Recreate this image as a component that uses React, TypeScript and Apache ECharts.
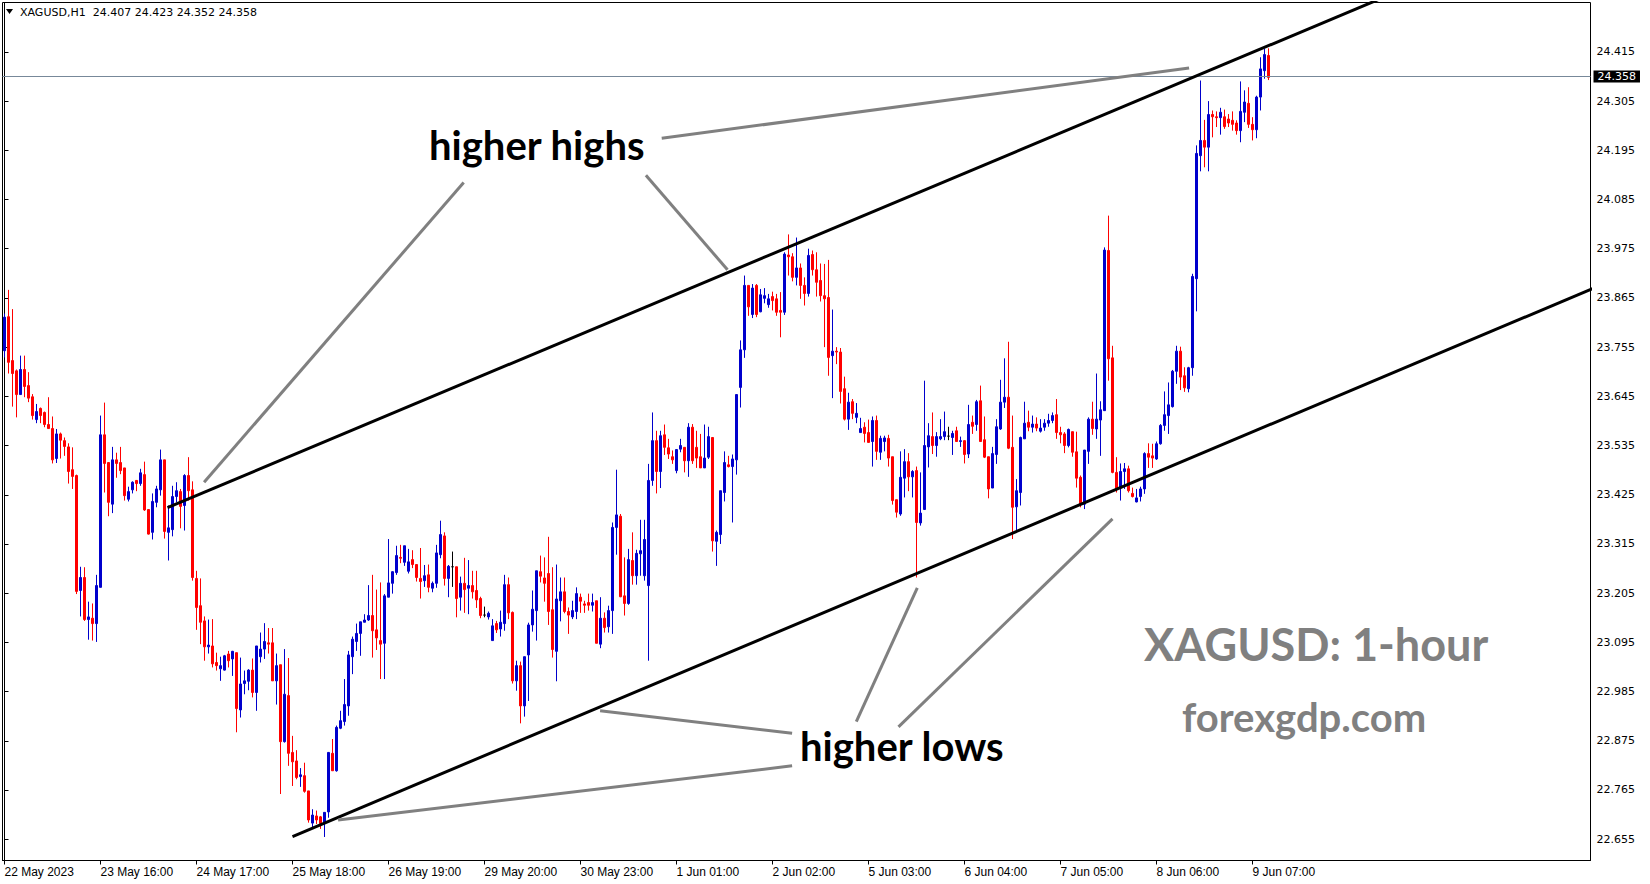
import { useEffect, useRef } from "react";
import * as echarts from "echarts";

// XAGUSD hourly candles, [open, high, low, close]
const bars: [number, number, number, number][] = [
  [23.747, 23.830, 23.732, 23.822], [23.823, 23.883, 23.696, 23.721], [23.725, 23.840, 23.622, 23.696], [23.702, 23.705, 23.598, 23.649],
  [23.649, 23.736, 23.649, 23.705], [23.705, 23.736, 23.643, 23.667], [23.669, 23.699, 23.632, 23.641], [23.644, 23.650, 23.593, 23.602],
  [23.593, 23.628, 23.585, 23.611], [23.618, 23.620, 23.585, 23.602], [23.609, 23.611, 23.576, 23.582], [23.582, 23.643, 23.573, 23.573],
  [23.573, 23.600, 23.495, 23.503], [23.506, 23.572, 23.496, 23.561], [23.561, 23.564, 23.506, 23.547], [23.546, 23.553, 23.512, 23.533],
  [23.532, 23.540, 23.450, 23.477], [23.481, 23.531, 23.438, 23.466], [23.468, 23.470, 23.203, 23.209], [23.211, 23.264, 23.153, 23.240],
  [23.240, 23.263, 23.143, 23.146], [23.146, 23.186, 23.101, 23.152], [23.149, 23.182, 23.099, 23.137], [23.137, 23.246, 23.096, 23.222],
  [23.218, 23.602, 23.218, 23.559], [23.559, 23.631, 23.430, 23.495], [23.497, 23.497, 23.377, 23.408], [23.404, 23.532, 23.384, 23.503],
  [23.503, 23.519, 23.463, 23.495], [23.497, 23.532, 23.471, 23.479], [23.485, 23.485, 23.412, 23.423], [23.415, 23.443, 23.410, 23.432],
  [23.436, 23.455, 23.428, 23.453], [23.457, 23.458, 23.433, 23.450], [23.450, 23.483, 23.445, 23.474], [23.470, 23.499, 23.389, 23.391],
  [23.392, 23.392, 23.336, 23.337], [23.341, 23.428, 23.325, 23.410], [23.408, 23.445, 23.397, 23.438], [23.436, 23.526, 23.423, 23.503],
  [23.503, 23.503, 23.327, 23.343], [23.341, 23.401, 23.278, 23.351], [23.347, 23.445, 23.332, 23.421], [23.421, 23.453, 23.408, 23.434],
  [23.432, 23.438, 23.350, 23.399], [23.401, 23.471, 23.345, 23.468], [23.468, 23.509, 23.412, 23.434], [23.436, 23.455, 23.233, 23.240],
  [23.238, 23.255, 23.123, 23.173], [23.177, 23.238, 23.091, 23.140], [23.143, 23.153, 23.054, 23.085], [23.085, 23.146, 23.070, 23.089],
  [23.087, 23.147, 23.039, 23.047], [23.050, 23.072, 23.032, 23.043], [23.036, 23.063, 23.009, 23.043], [23.033, 23.067, 23.032, 23.065],
  [23.069, 23.076, 23.039, 23.054], [23.058, 23.076, 23.020, 23.075], [23.072, 23.072, 22.894, 22.947], [22.944, 23.061, 22.927, 23.002],
  [23.003, 23.032, 22.979, 23.009], [23.008, 23.035, 22.988, 23.033], [23.033, 23.059, 22.972, 22.983], [22.983, 23.087, 22.942, 23.087],
  [23.063, 23.117, 23.050, 23.080], [23.080, 23.138, 23.058, 23.097], [23.094, 23.127, 23.070, 23.091], [23.094, 23.127, 23.009, 23.009],
  [23.009, 23.070, 22.956, 23.043], [23.045, 23.045, 22.756, 22.873], [22.873, 23.080, 22.871, 22.979], [22.976, 23.060, 22.819, 22.847],
  [22.849, 22.886, 22.774, 22.828], [22.830, 22.854, 22.789, 22.793], [22.795, 22.814, 22.772, 22.799], [22.797, 22.826, 22.759, 22.762],
  [22.763, 22.763, 22.692, 22.698], [22.691, 22.722, 22.681, 22.709], [22.707, 22.719, 22.689, 22.698], [22.705, 22.707, 22.678, 22.690],
  [22.692, 22.715, 22.660, 22.715], [22.716, 22.850, 22.703, 22.849], [22.847, 22.879, 22.808, 22.808], [22.808, 22.909, 22.806, 22.905],
  [22.903, 22.942, 22.901, 22.920], [22.918, 23.013, 22.909, 22.956], [22.953, 23.076, 22.931, 23.067], [23.063, 23.108, 23.024, 23.102],
  [23.097, 23.137, 23.076, 23.115], [23.115, 23.141, 23.065, 23.141], [23.140, 23.158, 23.140, 23.145], [23.145, 23.223, 23.143, 23.155],
  [23.155, 23.246, 23.061, 23.121], [23.123, 23.213, 23.078, 23.105], [23.099, 23.229, 23.013, 23.091], [23.093, 23.203, 23.013, 23.199],
  [23.196, 23.326, 23.196, 23.228], [23.227, 23.254, 23.204, 23.253], [23.251, 23.311, 23.246, 23.289], [23.285, 23.313, 23.272, 23.283],
  [23.274, 23.311, 23.266, 23.311], [23.254, 23.304, 23.249, 23.275], [23.280, 23.301, 23.261, 23.269], [23.269, 23.269, 23.231, 23.240],
  [23.238, 23.306, 23.193, 23.231], [23.233, 23.268, 23.219, 23.244], [23.246, 23.269, 23.207, 23.218], [23.216, 23.231, 23.207, 23.227],
  [23.227, 23.313, 23.217, 23.295], [23.291, 23.367, 23.283, 23.336], [23.333, 23.341, 23.222, 23.238], [23.238, 23.268, 23.196, 23.265],
  [23.264, 23.298, 23.219, 23.264], [23.264, 23.264, 23.151, 23.193], [23.196, 23.242, 23.166, 23.227], [23.227, 23.284, 23.161, 23.213],
  [23.216, 23.279, 23.158, 23.222], [23.222, 23.255, 23.193, 23.208], [23.211, 23.255, 23.172, 23.190], [23.193, 23.197, 23.149, 23.155],
  [23.156, 23.175, 23.151, 23.156], [23.152, 23.164, 23.146, 23.160], [23.099, 23.147, 23.099, 23.132], [23.137, 23.143, 23.116, 23.123],
  [23.125, 23.166, 23.108, 23.140], [23.137, 23.246, 23.121, 23.224], [23.224, 23.240, 23.147, 23.161], [23.162, 23.164, 23.003, 23.009],
  [23.009, 23.054, 22.987, 23.043], [23.043, 23.052, 22.914, 22.953], [22.953, 23.063, 22.929, 23.063], [23.067, 23.139, 22.964, 23.134],
  [23.134, 23.211, 23.119, 23.169], [23.166, 23.255, 23.099, 23.255], [23.253, 23.289, 23.229, 23.243], [23.239, 23.285, 23.186, 23.227],
  [23.249, 23.331, 23.134, 23.164], [23.168, 23.263, 23.061, 23.079], [23.075, 23.269, 23.008, 23.192], [23.188, 23.240, 23.142, 23.208],
  [23.208, 23.240, 23.160, 23.164], [23.164, 23.173, 23.114, 23.156], [23.152, 23.188, 23.147, 23.166], [23.164, 23.218, 23.147, 23.204],
  [23.196, 23.204, 23.161, 23.187], [23.181, 23.188, 23.161, 23.178], [23.184, 23.204, 23.166, 23.178], [23.178, 23.204, 23.164, 23.184],
  [23.188, 23.188, 23.093, 23.093], [23.091, 23.196, 23.082, 23.149], [23.149, 23.162, 23.117, 23.128], [23.130, 23.177, 23.117, 23.166],
  [23.166, 23.363, 23.114, 23.352], [23.352, 23.481, 23.291, 23.380], [23.377, 23.382, 23.196, 23.197], [23.199, 23.285, 23.155, 23.182],
  [23.182, 23.304, 23.179, 23.280], [23.278, 23.341, 23.224, 23.244], [23.244, 23.302, 23.224, 23.294], [23.293, 23.369, 23.244, 23.300],
  [23.244, 23.369, 23.233, 23.325], [23.222, 23.494, 23.054, 23.457], [23.457, 23.609, 23.445, 23.546], [23.546, 23.568, 23.428, 23.477],
  [23.477, 23.568, 23.440, 23.557], [23.559, 23.582, 23.514, 23.531], [23.530, 23.550, 23.505, 23.516], [23.510, 23.524, 23.494, 23.503],
  [23.479, 23.527, 23.473, 23.526], [23.527, 23.550, 23.520, 23.535], [23.531, 23.531, 23.475, 23.501], [23.501, 23.585, 23.465, 23.576],
  [23.576, 23.583, 23.494, 23.501], [23.531, 23.568, 23.485, 23.507], [23.510, 23.561, 23.485, 23.485], [23.485, 23.582, 23.485, 23.507],
  [23.509, 23.577, 23.505, 23.555], [23.553, 23.553, 23.298, 23.322], [23.321, 23.345, 23.266, 23.341], [23.336, 23.434, 23.315, 23.434],
  [23.430, 23.522, 23.410, 23.497], [23.492, 23.512, 23.486, 23.488], [23.488, 23.515, 23.363, 23.505], [23.503, 23.650, 23.470, 23.649],
  [23.665, 23.770, 23.620, 23.749], [23.749, 23.915, 23.731, 23.893], [23.893, 23.893, 23.825, 23.845], [23.828, 23.896, 23.820, 23.887],
  [23.893, 23.896, 23.822, 23.828], [23.834, 23.885, 23.833, 23.872], [23.864, 23.887, 23.853, 23.870], [23.850, 23.874, 23.843, 23.863],
  [23.868, 23.879, 23.837, 23.859], [23.863, 23.874, 23.825, 23.833], [23.837, 23.878, 23.777, 23.833], [23.833, 23.967, 23.827, 23.963],
  [23.961, 24.007, 23.915, 23.957], [23.957, 23.965, 23.902, 23.911], [23.911, 24.000, 23.893, 23.932], [23.932, 23.942, 23.863, 23.893],
  [23.893, 23.911, 23.848, 23.875], [23.875, 23.975, 23.868, 23.960], [23.962, 23.971, 23.915, 23.928], [23.928, 23.967, 23.868, 23.900],
  [23.904, 23.942, 23.857, 23.870], [23.870, 23.941, 23.755, 23.863], [23.866, 23.950, 23.691, 23.732], [23.736, 23.839, 23.641, 23.746],
  [23.746, 23.755, 23.717, 23.744], [23.744, 23.753, 23.629, 23.656], [23.662, 23.689, 23.591, 23.594], [23.594, 23.653, 23.570, 23.632],
  [23.633, 23.639, 23.594, 23.607], [23.598, 23.630, 23.585, 23.607], [23.564, 23.597, 23.564, 23.573], [23.576, 23.587, 23.542, 23.562],
  [23.564, 23.593, 23.542, 23.542], [23.544, 23.600, 23.488, 23.591], [23.591, 23.602, 23.503, 23.522], [23.520, 23.557, 23.503, 23.551],
  [23.544, 23.557, 23.522, 23.552], [23.551, 23.559, 23.488, 23.507], [23.510, 23.510, 23.403, 23.412], [23.414, 23.414, 23.374, 23.386],
  [23.382, 23.522, 23.378, 23.464], [23.462, 23.527, 23.419, 23.499], [23.499, 23.518, 23.433, 23.465], [23.465, 23.480, 23.419, 23.477],
  [23.479, 23.488, 23.240, 23.363], [23.362, 23.475, 23.356, 23.384], [23.392, 23.680, 23.392, 23.535], [23.532, 23.585, 23.486, 23.557],
  [23.555, 23.609, 23.516, 23.535], [23.535, 23.565, 23.510, 23.555], [23.550, 23.594, 23.547, 23.555], [23.555, 23.611, 23.547, 23.566],
  [23.556, 23.577, 23.547, 23.556], [23.553, 23.568, 23.514, 23.562], [23.568, 23.577, 23.544, 23.544], [23.544, 23.555, 23.532, 23.546],
  [23.546, 23.547, 23.495, 23.515], [23.516, 23.626, 23.507, 23.582], [23.587, 23.602, 23.561, 23.578], [23.582, 23.637, 23.568, 23.633],
  [23.635, 23.669, 23.544, 23.544], [23.548, 23.600, 23.507, 23.509], [23.510, 23.510, 23.417, 23.438], [23.440, 23.532, 23.440, 23.517],
  [23.515, 23.594, 23.494, 23.577], [23.572, 23.682, 23.570, 23.632], [23.632, 23.730, 23.619, 23.643], [23.643, 23.767, 23.527, 23.529],
  [23.531, 23.602, 23.326, 23.397], [23.398, 23.460, 23.346, 23.434], [23.430, 23.555, 23.401, 23.553], [23.550, 23.633, 23.550, 23.585],
  [23.587, 23.613, 23.567, 23.576], [23.576, 23.602, 23.564, 23.583], [23.583, 23.598, 23.567, 23.574], [23.567, 23.594, 23.564, 23.574],
  [23.576, 23.594, 23.568, 23.585], [23.585, 23.606, 23.577, 23.591], [23.591, 23.609, 23.585, 23.602], [23.604, 23.639, 23.550, 23.564],
  [23.564, 23.577, 23.540, 23.559], [23.561, 23.565, 23.518, 23.535], [23.535, 23.573, 23.531, 23.571], [23.566, 23.566, 23.510, 23.520],
  [23.521, 23.566, 23.441, 23.462], [23.464, 23.468, 23.397, 23.404], [23.404, 23.525, 23.393, 23.525], [23.522, 23.598, 23.494, 23.594],
  [23.594, 23.633, 23.559, 23.573], [23.572, 23.696, 23.550, 23.594], [23.592, 23.634, 23.512, 23.615], [23.613, 23.978, 23.613, 23.972],
  [23.971, 24.049, 23.680, 23.729], [23.731, 23.758, 23.473, 23.475], [23.475, 23.509, 23.430, 23.438], [23.440, 23.495, 23.412, 23.477],
  [23.477, 23.496, 23.438, 23.483], [23.483, 23.490, 23.430, 23.434], [23.428, 23.441, 23.419, 23.421], [23.409, 23.438, 23.408, 23.418],
  [23.421, 23.443, 23.410, 23.438], [23.438, 23.520, 23.427, 23.517], [23.517, 23.540, 23.485, 23.509], [23.512, 23.539, 23.485, 23.507],
  [23.505, 23.544, 23.503, 23.539], [23.539, 23.583, 23.537, 23.580], [23.580, 23.656, 23.568, 23.604], [23.602, 23.676, 23.561, 23.626],
  [23.622, 23.704, 23.620, 23.701], [23.701, 23.758, 23.673, 23.746], [23.746, 23.756, 23.659, 23.688], [23.691, 23.710, 23.655, 23.664],
  [23.662, 23.711, 23.654, 23.709], [23.709, 23.919, 23.691, 23.913], [23.908, 24.206, 23.835, 24.188], [24.183, 24.351, 24.148, 24.217],
  [24.217, 24.263, 24.157, 24.202], [24.202, 24.305, 24.148, 24.275], [24.275, 24.284, 24.224, 24.270], [24.270, 24.282, 24.247, 24.268],
  [24.268, 24.290, 24.230, 24.280], [24.270, 24.286, 24.243, 24.248], [24.265, 24.276, 24.247, 24.256], [24.262, 24.282, 24.239, 24.253],
  [24.256, 24.262, 24.230, 24.239], [24.239, 24.349, 24.213, 24.282], [24.280, 24.329, 24.258, 24.303], [24.300, 24.336, 24.245, 24.253],
  [24.253, 24.269, 24.217, 24.241], [24.241, 24.317, 24.222, 24.314], [24.314, 24.403, 24.284, 24.377], [24.373, 24.422, 24.355, 24.409],
  [24.407, 24.423, 24.352, 24.358],
];

const symbolName = "XAGUSD";
const periodName = "H1";

// time-axis labels, one every LABEL_STEP bars
const timeLabels = [
  "22 May 2023", "23 May 16:00", "24 May 17:00", "25 May 18:00", "26 May 19:00", "29 May 20:00", "30 May 23:00",
  "1 Jun 01:00", "2 Jun 02:00", "5 Jun 03:00", "6 Jun 04:00", "7 Jun 05:00", "8 Jun 06:00", "9 Jun 07:00",
];
const LABEL_STEP = 24;
const SLOT_COUNT = 397; // bar slots visible across the window (chart shifted left)

const priceTicks = [
  22.655, 22.765, 22.875, 22.985, 23.095, 23.205, 23.315, 23.425, 23.535,
  23.645, 23.755, 23.865, 23.975, 24.085, 24.195, 24.305, 24.415,
];
const PRICE_MIN = 22.6074;
const PRICE_MAX = 24.5254;

// channel trend lines, [bar index, price]
const upperChannel: [number, number][] = [[40.75, 23.396], [360, 24.594]];
const lowerChannel: [number, number][] = [[72, 22.661], [400, 23.897]];

// annotation pointers, [bar index, price] pairs
const highPointers: [number, number][][] = [
  [[114.8, 24.123], [49.9, 23.453]],
  [[160.35, 24.139], [180.75, 23.928]],
  [[164.3, 24.222], [296.15, 24.379]],
];
const lowPointers: [number, number][][] = [
  [[148.9, 22.942], [196.9, 22.892]],
  [[196.9, 22.819], [83.4, 22.698]],
  [[212.95, 22.918], [228.2, 23.217]],
  [[223.5, 22.906], [277.0, 23.371]],
];

const BULL = "#0000cc";
const BEAR = "#ff0000";
const AXIS_FONT = "DejaVu Sans";
const NOTE_FONT = "Lato";

export default function App() {
  const ref = useRef<HTMLDivElement>(null);

  useEffect(() => {
    if (!ref.current) return;
    const chart = echarts.init(ref.current, null, { renderer: "svg" });

    const last = bars[bars.length - 1];
    const lastClose = last[3];
    const header = `${symbolName},${periodName}  ${last.map((v) => v.toFixed(3)).join(" ")}`;

    const categories = Array.from({ length: SLOT_COUNT }, (_, i) => String(i));
    const candleData = bars.map(([o, h, l, c]) => {
      const item: any = { value: [o, c, l, h] };
      if (o === c) {
        item.itemStyle = { color: "#000", color0: "#000", borderColor: "#000", borderColor0: "#000" };
      }
      return item;
    });

    const showLabel = (index: number) =>
      index % LABEL_STEP === 0 && index / LABEL_STEP < timeLabels.length;

    const lineSeries = (pts: [number, number][], color: string, name: string) => ({
      type: "line",
      name,
      xAxisIndex: 1,
      yAxisIndex: 0,
      data: pts,
      symbol: "none",
      silent: true,
      clip: true,
      z: 5,
      lineStyle: { color, width: 3 },
    });

    const option: any = {
      animation: false,
      backgroundColor: "#ffffff",
      grid: {
        left: 2.5,
        right: 59.5,
        top: 2.5,
        bottom: 23.5,
        show: true,
        borderColor: "#000",
        borderWidth: 1,
        backgroundColor: "#ffffff",
      },
      xAxis: [
        {
          type: "category",
          data: categories,
          boundaryGap: true,
          axisLine: { show: true, lineStyle: { color: "#000", width: 1 } },
          axisTick: {
            show: true,
            alignWithLabel: true,
            interval: (i: number) => showLabel(i),
            length: 4,
            lineStyle: { color: "#000" },
          },
          axisLabel: {
            interval: (i: number) => showLabel(i),
            formatter: (_v: string, i: number) => timeLabels[i / LABEL_STEP] ?? "",
            align: "left",
            margin: 5,
            color: "#000",
            fontFamily: "Liberation Sans",
            fontSize: 12,
          },
          splitLine: { show: false },
        },
        {
          type: "value",
          min: -0.5,
          max: SLOT_COUNT - 0.5,
          show: false,
          splitLine: { show: false },
        },
      ],
      yAxis: [
        {
          type: "value",
          position: "right",
          min: PRICE_MIN,
          max: PRICE_MAX,
          scale: true,
          axisLine: { show: true, lineStyle: { color: "#000", width: 1 } },
          axisTick: { show: true, length: 4, customValues: priceTicks, lineStyle: { color: "#000" } },
          axisLabel: {
            customValues: priceTicks,
            formatter: (v: number) => v.toFixed(3),
            color: "#000",
            fontFamily: AXIS_FONT,
            fontSize: 11,
            margin: 6,
          },
          splitLine: { show: false },
        },
      ],
      series: [
        {
          type: "candlestick",
          name: symbolName,
          xAxisIndex: 0,
          yAxisIndex: 0,
          data: candleData,
          barWidth: 2,
          clip: true,
          z: 3,
          itemStyle: {
            color: BULL,
            color0: BEAR,
            borderColor: BULL,
            borderColor0: BEAR,
            borderWidth: 1,
          },
          markLine: {
            silent: true,
            symbol: ["none", "none"],
            animation: false,
            data: [{ yAxis: lastClose }],
            lineStyle: { color: "#778899", width: 1, type: "solid" },
            label: {
              show: true,
              position: "end",
              distance: 3,
              formatter: () => lastClose.toFixed(3),
              backgroundColor: "#000",
              color: "#fff",
              fontFamily: AXIS_FONT,
              fontSize: 11,
              padding: [1, 4, 0, 4],
            },
          },
        },
        lineSeries(upperChannel, "#000", "upper"),
        lineSeries(lowerChannel, "#000", "lower"),
        ...highPointers.map((p, i) => lineSeries(p, "#808080", `hh${i}`)),
        ...lowPointers.map((p, i) => lineSeries(p, "#808080", `hl${i}`)),
      ],
      graphic: [
        {
          type: "polygon",
          shape: { points: [[6, 9], [13, 9], [9.5, 14]] },
          style: { fill: "#000" },
        },
        {
          type: "text",
          x: 20,
          y: 12,
          style: { text: header, font: `11px '${AXIS_FONT}'`, fill: "#000", verticalAlign: "middle" },
        },
        {
          type: "text",
          x: 429,
          y: 145,
          style: { text: "higher highs", font: `bold 40px '${NOTE_FONT}'`, fill: "#000", verticalAlign: "middle" },
        },
        {
          type: "text",
          x: 800,
          y: 746,
          style: { text: "higher lows", font: `bold 40px '${NOTE_FONT}'`, fill: "#000", verticalAlign: "middle" },
        },
        {
          type: "text",
          x: 1144,
          y: 644,
          style: { text: `${symbolName}: 1-hour`, font: `bold 45px '${NOTE_FONT}'`, fill: "#808080", verticalAlign: "middle" },
        },
        {
          type: "text",
          x: 1182,
          y: 717,
          style: { text: "forexgdp.com", font: `bold 40px '${NOTE_FONT}'`, fill: "#808080", verticalAlign: "middle" },
        },
      ],
    };

    chart.setOption(option);
    return () => chart.dispose();
  }, []);

  return (
    <div
      ref={ref}
      style={{ position: "fixed", left: 0, top: 0, width: 1650, height: 884, background: "#fff" }}
    />
  );
}
